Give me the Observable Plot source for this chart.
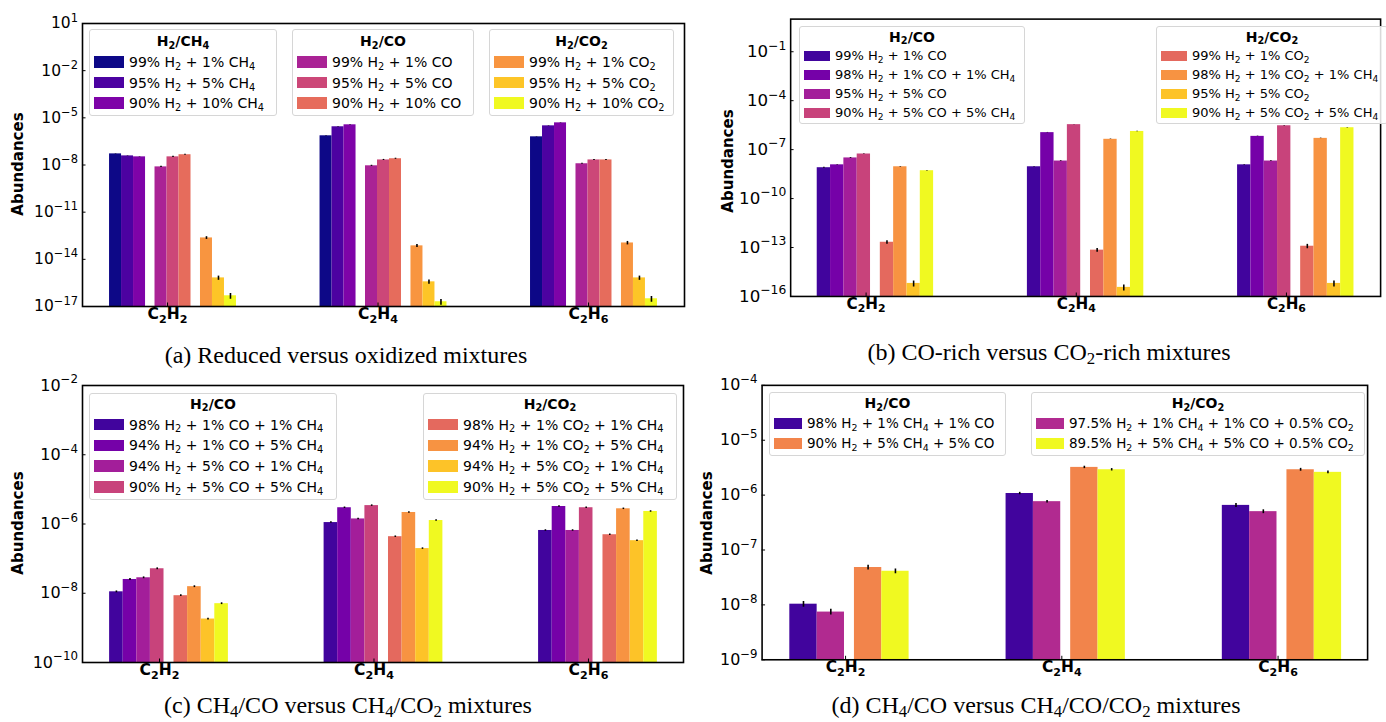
<!DOCTYPE html>
<html>
<head>
<meta charset="utf-8">
<script src="https://cdn.jsdelivr.net/npm/d3@7"></script>
<script src="https://cdn.jsdelivr.net/npm/@observablehq/plot@0.6"></script>
<style>
  html, body { margin: 0; padding: 0; background: #fff; }
  #stage { position: relative; width: 1386px; height: 722px; overflow: hidden; background: #fff; font-family: "DejaVu Sans", sans-serif; color: #000; }
  .panel { position: absolute; }
  .legend { position: absolute; box-sizing: border-box; border: 1px solid #d6d6d6; border-radius: 3px; background: rgba(255,255,255,0.85); z-index: 2; }
  .ltitle { position: absolute; left: 0; width: 100%; text-align: center; font-weight: bold; white-space: nowrap; }
  .lrow { position: absolute; white-space: nowrap; }
  .lpatch { position: absolute; }
  sub { font-size: 0.7em; vertical-align: baseline; position: relative; top: 0.3em; line-height: 0; }
  .caption { position: absolute; width: 700px; text-align: center; font-family: "Liberation Serif", "Times New Roman", serif; font-size: 24px; line-height: 24px; white-space: nowrap; z-index: 2; }
  .caption sub { top: 0.22em; }
  .ylab { position: absolute; width: 140px; height: 20px; line-height: 20px; text-align: center; font-weight: bold; font-size: 15px; transform: rotate(-90deg); white-space: nowrap; z-index: 2; }
</style>
</head>
<body>
<div id="stage"></div>
<script>
// ---------------- data ----------------
const categories = ["C₂H₂", "C₂H₄", "C₂H₆"];

// (a) Reduced versus oxidized mixtures — values[series] = [C2H2, C2H4, C2H6]
const aSeries = ["99% H₂ + 1% CH₄", "95% H₂ + 5% CH₄", "90% H₂ + 10% CH₄",
                 "99% H₂ + 1% CO", "95% H₂ + 5% CO", "90% H₂ + 10% CO",
                 "99% H₂ + 1% CO₂", "95% H₂ + 5% CO₂", "90% H₂ + 10% CO₂"];
const aValues = [
  [5.1e-8, 7.2e-7, 6.2e-7],
  [3.8e-8, 2.7e-6, 3.1e-6],
  [3.3e-8, 3.6e-6, 4.8e-6],
  [7.6e-9, 8.9e-9, 1.2e-8],
  [3.3e-8, 2.1e-8, 2.1e-8],
  [4.5e-8, 2.5e-8, 2.1e-8],
  [2.3e-13, 7.2e-14, 1.1e-13],
  [6.6e-16, 3.7e-16, 6.6e-16],
  [4.8e-17, 2.0e-17, 3.1e-17]
];
const aErr = [
  [0.03, 0.03, 0.03], [0.03, 0.03, 0.03], [0.03, 0.03, 0.03],
  [0.08, 0.08, 0.08], [0.08, 0.08, 0.08], [0.08, 0.08, 0.08],
  [0.2, 0.2, 0.25], [0.3, 0.3, 0.3], [0.4, 0.4, 0.4]
];
const aLegendTitles = ["H₂/CH₄", "H₂/CO", "H₂/CO₂"];
const aLegendSeries = [[0, 1, 2], [3, 4, 5], [6, 7, 8]];
const aTicks = [1e1, 1e-2, 1e-5, 1e-8, 1e-11, 1e-14, 1e-17];

// (b) CO-rich versus CO2-rich mixtures
const bSeries = ["99% H₂ + 1% CO", "98% H₂ + 1% CO + 1% CH₄", "95% H₂ + 5% CO", "90% H₂ + 5% CO + 5% CH₄",
                 "99% H₂ + 1% CO₂", "98% H₂ + 1% CO₂ + 1% CH₄", "95% H₂ + 5% CO₂", "90% H₂ + 5% CO₂ + 5% CH₄"];
const bValues = [
  [7.8e-9, 8.9e-9, 1.17e-8],
  [1.17e-8, 1.1e-6, 6.5e-7],
  [3.1e-8, 2.0e-8, 2.0e-8],
  [5.4e-8, 3.4e-6, 2.9e-6],
  [2.1e-13, 6.9e-14, 1.2e-13],
  [8.9e-9, 4.3e-7, 4.9e-7],
  [6.3e-16, 3.6e-16, 6.3e-16],
  [5.1e-9, 1.3e-6, 2.2e-6]
];
const bErr = [
  [0.06, 0.04, 0.04], [0.04, 0.03, 0.03], [0.06, 0.05, 0.05], [0.04, 0.03, 0.03],
  [0.25, 0.25, 0.3], [0.04, 0.03, 0.03], [0.4, 0.4, 0.4], [0.03, 0.03, 0.03]
];
const bLegendTitles = ["H₂/CO", "H₂/CO₂"];
const bLegendSeries = [[0, 1, 2, 3], [4, 5, 6, 7]];
const bTicks = [1e-1, 1e-4, 1e-7, 1e-10, 1e-13, 1e-16];

// (c) CH4/CO versus CH4/CO2 mixtures
const cSeries = ["98% H₂ + 1% CO + 1% CH₄", "94% H₂ + 1% CO + 5% CH₄", "94% H₂ + 5% CO + 1% CH₄", "90% H₂ + 5% CO + 5% CH₄",
                 "98% H₂ + 1% CO₂ + 1% CH₄", "94% H₂ + 1% CO₂ + 5% CH₄", "94% H₂ + 5% CO₂ + 1% CH₄", "90% H₂ + 5% CO₂ + 5% CH₄"];
const cValues = [
  [1.1e-8, 1.1e-6, 6.5e-7],
  [2.5e-8, 2.95e-6, 3.2e-6],
  [2.8e-8, 1.4e-6, 6.5e-7],
  [5.1e-8, 3.4e-6, 2.95e-6],
  [8.5e-9, 4.3e-7, 4.9e-7],
  [1.55e-8, 2.15e-6, 2.75e-6],
  [1.8e-9, 1.95e-7, 3.3e-7],
  [5.0e-9, 1.26e-6, 2.3e-6]
];
const cErr = [
  [0.06, 0.05, 0.05], [0.06, 0.05, 0.05], [0.06, 0.05, 0.05], [0.06, 0.05, 0.05],
  [0.06, 0.05, 0.05], [0.06, 0.05, 0.05], [0.06, 0.05, 0.05], [0.06, 0.05, 0.05]
];
const cLegendTitles = ["H₂/CO", "H₂/CO₂"];
const cLegendSeries = [[0, 1, 2, 3], [4, 5, 6, 7]];
const cTicks = [1e-2, 1e-4, 1e-6, 1e-8, 1e-10];

// (d) CH4/CO versus CH4/CO/CO2 mixtures
const dSeries = ["98% H₂ + 1% CH₄ + 1% CO", "97.5% H₂ + 1% CH₄ + 1% CO + 0.5% CO₂",
                 "90% H₂ + 5% CH₄ + 5% CO", "89.5% H₂ + 5% CH₄ + 5% CO + 0.5% CO₂"];
const dValues = [
  [1.03e-8, 1.07e-6, 6.5e-7],
  [7.4e-9, 7.6e-7, 5.0e-7],
  [4.8e-8, 3.2e-6, 2.9e-6],
  [4.1e-8, 2.9e-6, 2.6e-6]
];
const dErr = [
  [0.12, 0.05, 0.08], [0.12, 0.05, 0.08], [0.1, 0.05, 0.06], [0.1, 0.05, 0.06]
];
const dLegendTitles = ["H₂/CO", "H₂/CO₂"];
const dLegendSeries = [[0, 2], [1, 3]];
const dTicks = [1e-4, 1e-5, 1e-6, 1e-7, 1e-8, 1e-9];

const captions = [
  "(a) Reduced versus oxidized mixtures",
  "(b) CO-rich versus CO₂-rich mixtures",
  "(c) CH₄/CO versus CH₄/CO₂ mixtures",
  "(d) CH₄/CO versus CH₄/CO/CO₂ mixtures"
];
const yLabel = "Abundances";

// ---------------- styles (plasma colormap) ----------------
const aColors = d3.range(9).map(i => d3.interpolatePlasma(i / 8));
const bColors = d3.range(8).map(i => d3.interpolatePlasma(0.1 + i * 0.9 / 7));
const cColors = bColors;
const dColors = [0.1, 0.4, 0.7, 1.0].map(t => d3.interpolatePlasma(t));

// ---------------- helpers ----------------
const stage = document.getElementById("stage");
const supMap = {"-": "⁻", "0": "⁰", "1": "¹", "2": "²", "3": "³", "4": "⁴", "5": "⁵", "6": "⁶", "7": "⁷", "8": "⁸", "9": "⁹"};
const supBack = {"⁻": "−", "⁰": "0", "¹": "1", "²": "2", "³": "3", "⁴": "4", "⁵": "5", "⁶": "6", "⁷": "7", "⁸": "8", "⁹": "9"};
const pow10 = d => "10" + String(Math.round(Math.log10(d))).replace(/./g, ch => supMap[ch]);
const subHTML = s => s.replace(/[\u2080-\u2089]/g, ch => `<sub>${ch.charCodeAt(0) - 0x2080}</sub>`);

// turn unicode sub/superscripts of an SVG text into real shifted tspans
function richText(textEl, base, supScale, subScale) {
  const s = textEl.textContent;
  textEl.textContent = "";
  const offs = {0: 0, 1: 0.25 * base, "-1": -0.45 * base};
  let mode = null, cur = null;
  for (const ch of s) {
    const code = ch.charCodeAt(0);
    let m = 0, out = ch;
    if (code >= 0x2080 && code <= 0x2089) { m = 1; out = String(code - 0x2080); }
    else if (supBack[ch] !== undefined) { m = -1; out = supBack[ch]; }
    if (m !== mode) {
      cur = document.createElementNS("http://www.w3.org/2000/svg", "tspan");
      const prev = mode === null ? 0 : offs[mode];
      cur.setAttribute("dy", (offs[m] - prev) + "px");
      if (m === 1) cur.setAttribute("font-size", (base * subScale) + "px");
      if (m === -1) cur.setAttribute("font-size", (base * supScale) + "px");
      textEl.appendChild(cur);
      mode = m;
    }
    cur.textContent += out;
  }
}

function drawPanel(p) {
  const rows = [];
  const total = p.blocks * p.perBlock * p.barW + (p.blocks - 1) * p.gap;
  p.values.forEach((vals, s) => vals.forEach((v, c) => {
    const block = Math.floor(s / p.perBlock), j = s % p.perBlock;
    const x1 = c + p.shift - total / 2 + block * (p.perBlock * p.barW + p.gap) + j * p.barW;
    const e = p.err[s][c];
    rows.push({x1, x2: x1 + p.barW, xm: x1 + p.barW / 2, v, lo: v * (1 - e), hi: v * (1 + e), color: p.colors[s]});
  }));
  const svg = Plot.plot({
    width: p.width, height: p.height,
    marginLeft: p.marginLeft, marginRight: p.marginRight, marginTop: p.marginTop, marginBottom: p.marginBottom,
    style: {fontFamily: "DejaVu Sans", color: "#000", background: "transparent"},
    x: {type: "linear", domain: p.xDomain},
    y: {type: "log", domain: p.yDomain},
    color: {type: "identity"},
    marks: [
      Plot.rect(rows, {x1: "x1", x2: "x2", y1: p.yDomain[0], y2: "v", fill: "color"}),
      Plot.ruleX(rows, {x: "xm", y1: "lo", y2: "hi", stroke: "#000", strokeWidth: 1.6}),
      Plot.axisY({ticks: p.yTicks, tickFormat: pow10, tickSize: -3.5, tickPadding: 8, fontSize: p.tickFont, label: null}),
      Plot.axisX({ticks: [0, 1, 2], tickFormat: i => categories[i], tickSize: -3.5, tickPadding: 5, fontSize: 15.5, fontWeight: "bold", label: null}),
      Plot.frame({stroke: "#000", strokeWidth: 1.6})
    ]
  });
  svg.querySelectorAll('g[aria-label="y-axis tick label"] text').forEach(t => richText(t, p.tickFont, 0.74, 0.7));
  svg.querySelectorAll('g[aria-label="x-axis tick label"] text').forEach(t => richText(t, 15.5, 0.74, 0.72));

  const wrap = document.createElement("div");
  wrap.className = "panel";
  wrap.style.left = p.left + "px";
  wrap.style.top = p.top + "px";
  wrap.appendChild(svg);
  stage.appendChild(wrap);

  // legends
  p.legends.forEach((L, k) => {
    const box = document.createElement("div");
    box.className = "legend";
    Object.assign(box.style, {left: L.left + "px", top: p.lg.top + "px", width: L.width + "px", height: p.lg.height + "px"});
    const t = document.createElement("div");
    t.className = "ltitle";
    t.style.fontSize = "14px";
    t.style.top = (p.lg.titleY - p.lg.top - 11) + "px";
    t.style.lineHeight = "20px";
    t.innerHTML = subHTML(p.legendTitles[k]);
    box.appendChild(t);
    p.legendSeries[k].forEach((s, i) => {
      const cy = p.lg.rowY0 + i * p.lg.rowStep - p.lg.top - 1;
      const patch = document.createElement("div");
      patch.className = "lpatch";
      Object.assign(patch.style, {left: "4px", top: (cy - p.lg.patchH / 2) + "px",
        width: p.lg.patchW + "px", height: p.lg.patchH + "px", background: p.colors[s]});
      box.appendChild(patch);
      const txt = document.createElement("div");
      txt.className = "lrow";
      Object.assign(txt.style, {left: (p.lg.patchW + 9) + "px", top: (cy - 10) + "px", lineHeight: "20px", fontSize: p.lg.font + "px"});
      txt.innerHTML = subHTML(p.series[s]);
      box.appendChild(txt);
    });
    stage.appendChild(box);
  });

  // y label
  const yl = document.createElement("div");
  yl.className = "ylab";
  yl.textContent = yLabel;
  yl.style.left = (p.ylab[0] - 70) + "px";
  yl.style.top = (p.ylab[1] - 10) + "px";
  stage.appendChild(yl);

  // caption
  const cap = document.createElement("div");
  cap.className = "caption";
  cap.innerHTML = subHTML(p.caption);
  cap.style.left = (p.cap[0] - 350) + "px";
  cap.style.top = (p.cap[1] - 12) + "px";
  stage.appendChild(cap);
}

drawPanel({
  left: 0, top: 0, width: 700, height: 335,
  marginLeft: 82, marginRight: 16, marginTop: 23, marginBottom: 29,
  xDomain: [-0.404, 2.456], yDomain: [1e-17, 1e1], yTicks: aTicks, tickFont: 15.5,
  barW: 0.057, gap: 0.045, blocks: 3, perBlock: 3, shift: 0.026,
  values: aValues, err: aErr, colors: aColors, series: aSeries,
  legendTitles: aLegendTitles, legendSeries: aLegendSeries,
  legends: [{left: 89, width: 188}, {left: 292, width: 182}, {left: 489, width: 185}],
  lg: {top: 29, height: 87, titleY: 41, rowY0: 62, rowStep: 20.6, patchW: 30, patchH: 11.5, font: 14},
  ylab: [18, 164], caption: captions[0], cap: [346, 355]
});

drawPanel({
  left: 700, top: 0, width: 700, height: 335,
  marginLeft: 92, marginRight: 6, marginTop: 19, marginBottom: 33,
  xDomain: [-0.359, 2.448], yDomain: [1e-16, 1e1], yTicks: bTicks, tickFont: 17,
  barW: 0.0634, gap: 0.0466, blocks: 2, perBlock: 4, shift: 0.0443,
  values: bValues, err: bErr, colors: bColors, series: bSeries,
  legendTitles: bLegendTitles, legendSeries: bLegendSeries,
  legends: [{left: 799, width: 226}, {left: 1156, width: 232}],
  lg: {top: 26, height: 98, titleY: 36.5, rowY0: 56, rowStep: 19, patchW: 26, patchH: 10.5, font: 13},
  ylab: [728, 161], caption: captions[1], cap: [1049, 352]
});

drawPanel({
  left: 0, top: 360, width: 700, height: 330,
  marginLeft: 82, marginRight: 17, marginTop: 25, marginBottom: 28,
  xDomain: [-0.359, 2.443], yDomain: [1e-10, 1e-2], yTicks: cTicks, tickFont: 16,
  barW: 0.0634, gap: 0.0466, blocks: 2, perBlock: 4, shift: 0.0443,
  values: cValues, err: cErr, colors: cColors, series: cSeries,
  legendTitles: cLegendTitles, legendSeries: cLegendSeries,
  legends: [{left: 89, width: 248}, {left: 423, width: 254}],
  lg: {top: 393, height: 107, titleY: 403.5, rowY0: 424.5, rowStep: 20.8, patchW: 30, patchH: 11.5, font: 14},
  ylab: [18, 523], caption: captions[2], cap: [348, 705]
});

drawPanel({
  left: 690, top: 360, width: 700, height: 330,
  marginLeft: 72, marginRight: 19, marginTop: 25, marginBottom: 29,
  xDomain: [-0.386, 2.414], yDomain: [1e-9, 1e-4], yTicks: dTicks, tickFont: 16,
  barW: 0.1264, gap: 0.046, blocks: 2, perBlock: 2, shift: 0.018,
  values: dValues, err: dErr, colors: dColors, series: dSeries,
  legendTitles: dLegendTitles, legendSeries: dLegendSeries,
  legends: [{left: 769, width: 237}, {left: 1031, width: 334}],
  lg: {top: 392, height: 64, titleY: 403, rowY0: 423, rowStep: 20, patchW: 28, patchH: 11, font: 13.5},
  ylab: [707, 523], caption: captions[3], cap: [1036, 705]
});
</script>
</body>
</html>
